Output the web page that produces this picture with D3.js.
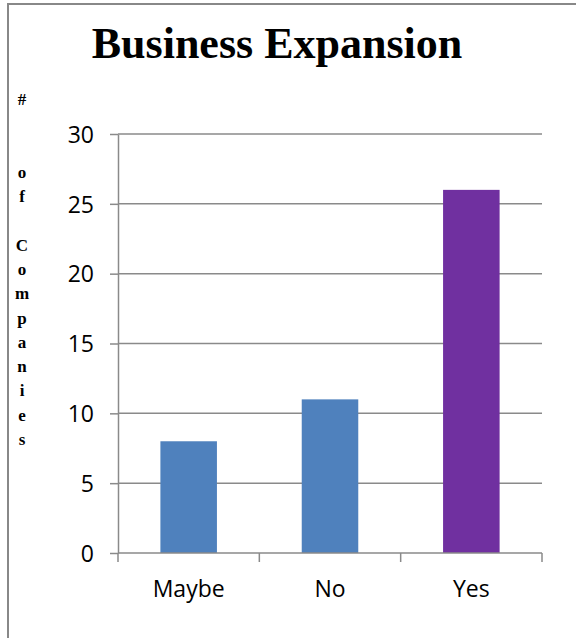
<!DOCTYPE html>
<html>
<head>
<meta charset="utf-8">
<script src="https://cdn.jsdelivr.net/npm/d3@7"></script>
<style>
  html, body { margin: 0; padding: 0; background: #fff; }
  svg { display: block; }
</style>
</head>
<body>
<script>
// Survey answers and company counts
const categories = ["Maybe", "No", "Yes"];
const counts = [8, 11, 26];
const barColors = ["#4F81BD", "#4F81BD", "#7030A0"];
const yTicks = [0, 5, 10, 15, 20, 25, 30];
const titleText = "Business Expansion";
const yLabelText = "#  of Companies";

const W = 576, H = 638;
const plot = { left: 118, right: 542, top: 134, bottom: 553 };

const svg = d3.select("body").append("svg")
  .attr("width", W).attr("height", H);

// Chart frame (left and top edges)
svg.append("path")
  .attr("d", `M8,${H} L8,4 L${W},4`)
  .attr("fill", "none")
  .attr("stroke", "#888")
  .attr("stroke-width", 2);

const x = d3.scaleBand().domain(categories)
  .range([plot.left, plot.right]).paddingInner(0).paddingOuter(0);
const y = d3.scaleLinear().domain([0, 30]).range([plot.bottom, plot.top]);

const gridColor = "#8a8a8a";

// Horizontal gridlines
svg.append("g").selectAll("line")
  .data(yTicks.filter(t => t > 0))
  .join("line")
  .attr("x1", plot.left).attr("x2", plot.right)
  .attr("y1", d => y(d)).attr("y2", d => y(d))
  .attr("stroke", gridColor).attr("stroke-width", 1.5);

// Bars
const barW = x.bandwidth() * 0.4;
svg.append("g").selectAll("rect")
  .data(counts)
  .join("rect")
  .attr("x", (d, i) => x(categories[i]) + (x.bandwidth() - barW) / 2)
  .attr("width", barW)
  .attr("y", d => y(d))
  .attr("height", d => y(0) - y(d))
  .attr("fill", (d, i) => barColors[i]);

// Y axis
const yAxis = svg.append("g")
  .attr("transform", `translate(${plot.left},0)`)
  .call(d3.axisLeft(y).tickValues(yTicks).tickSize(8).tickPadding(16).tickSizeOuter(0));
yAxis.select(".domain").attr("stroke", gridColor).attr("stroke-width", 1.5);
yAxis.selectAll(".tick line").attr("stroke", gridColor).attr("stroke-width", 1.5);
yAxis.selectAll(".tick text")
  .attr("fill", "#000")
  .style("font-family", "'Open Sans', sans-serif")
  .style("font-size", "23px")
  .attr("dy", "0.36em");

// X axis with ticks at band boundaries
const xAxis = svg.append("g")
  .attr("transform", `translate(0,${plot.bottom})`);
xAxis.append("line")
  .attr("x1", plot.left).attr("x2", plot.right)
  .attr("stroke", gridColor).attr("stroke-width", 1.5);
const bounds = categories.map(c => x(c)).concat([x(categories[categories.length - 1]) + x.bandwidth()]);
xAxis.selectAll(".bt").data(bounds).join("line")
  .attr("class", "bt")
  .attr("x1", d => d).attr("x2", d => d)
  .attr("y1", 0).attr("y2", 9)
  .attr("stroke", gridColor).attr("stroke-width", 1.5);
xAxis.selectAll("text").data(categories).join("text")
  .attr("x", d => x(d) + x.bandwidth() / 2)
  .attr("y", 44)
  .attr("text-anchor", "middle")
  .style("font-family", "'Open Sans', sans-serif")
  .style("font-size", "23px")
  .attr("fill", "#000")
  .text(d => d);

// Title
svg.append("text")
  .attr("x", 277).attr("y", 58)
  .attr("text-anchor", "middle")
  .style("font-family", "'Liberation Serif', 'DejaVu Serif', serif")
  .style("font-weight", "bold")
  .style("font-size", "44px")
  .attr("fill", "#000")
  .text(titleText);

// Vertical axis title, one character per line
const chars = Array.from(yLabelText);
const lineStep = 24.3;
const lastBaseline = 445;
svg.append("g").selectAll("text")
  .data(chars)
  .join("text")
  .attr("x", 22)
  .attr("y", (d, i) => lastBaseline - (chars.length - 1 - i) * lineStep)
  .attr("text-anchor", "middle")
  .style("font-family", "'Liberation Serif', 'DejaVu Serif', serif")
  .style("font-weight", "bold")
  .style("font-size", "17px")
  .attr("fill", "#000")
  .text(d => d === " " ? "" : d);
</script>
</body>
</html>
